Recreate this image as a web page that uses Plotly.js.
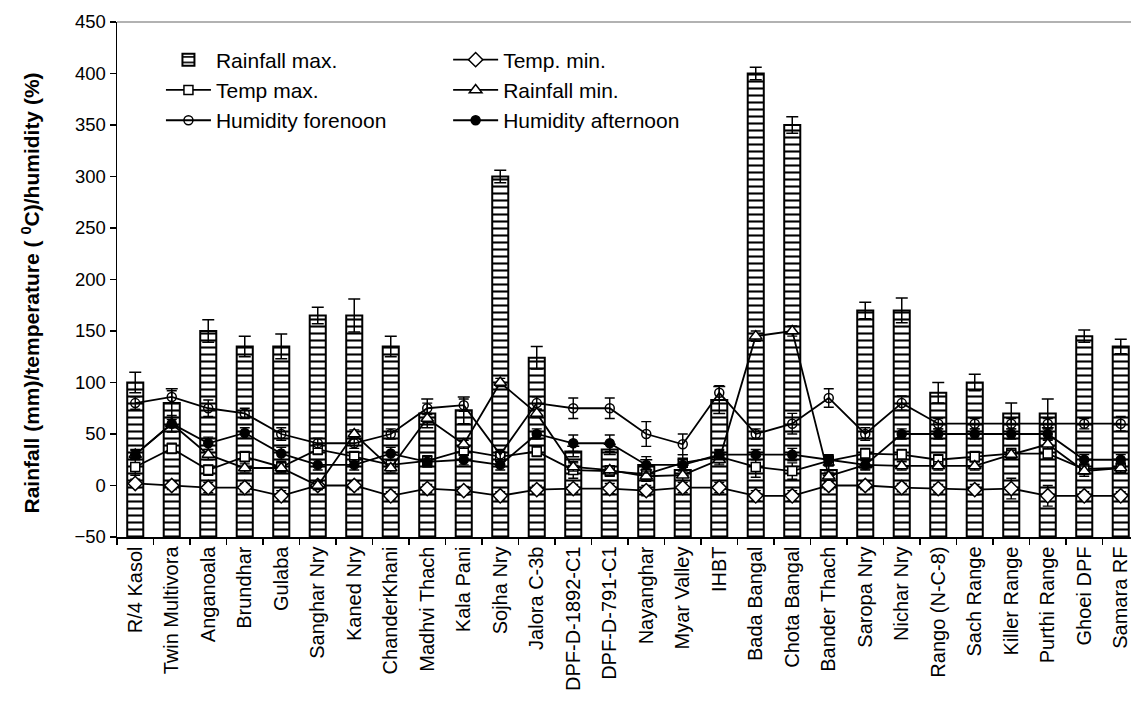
<!DOCTYPE html>
<html>
<head>
<meta charset="utf-8">
<script src="https://cdn.plot.ly/plotly-3.0.1.min.js"></script>
<style>
  html, body { margin: 0; padding: 0; overflow: hidden; background: #fff; }
  #chart { width: 1140px; height: 702px; }
</style>
</head>
<body>
<div id="chart"></div>
<script>
const categories = ["R/4 Kasol","Twin Multivora","Anganoala","Brundhar","Gulaba","Sanghar Nry","Kaned Nry","ChanderKhani","Madhvi Thach","Kala Pani","Sojha Nry","Jalora C-3b","DPF-D-1892-C1","DPF-D-791-C1","Nayanghar","Myar Valley","IHBT","Bada Bangal","Chota Bangal","Bander Thach","Saropa Nry","Nichar Nry","Rango (N-C-8)","Sach Range","Killer Range","Purthi Range","Ghoei DPF","Samara RF"];

const rainfallMax    = [100, 80, 150, 135, 135, 165, 165, 135, 70, 73, 300, 124, 33, 35, 20, 15, 83, 400, 350, 15, 170, 170, 90, 100, 70, 70, 145, 135];
const rainfallMaxErr = [10, 14, 11, 10, 12, 8, 16, 10, 14, 13, 6, 11, 5, 5, 5, 5, 13, 6, 8, 5, 8, 12, 10, 8, 10, 14, 6, 7];

const tempMin    = [2, 0, -2, -2, -10, 0, 0, -10, -3, -5, -10, -4, -3, -3, -5, -2, -2, -10, -10, 0, 0, -2, -3, -4, -3, -10, -10, -10];
const tempMinErr = [4, 4, 5, 4, 5, 4, 4, 4, 4, 4, 4, 4, 4, 5, 5, 5, 5, 5, 5, 4, 4, 4, 4, 5, 10, 10, 4, 4];

const tempMax    = [18, 36, 15, 28, 18, 35, 28, 20, 24, 34, 28, 33, 15, 14, 11, 22, 28, 18, 14, 24, 31, 30, 25, 28, 31, 31, 16, 17];
const tempMaxErr = [8, 5, 5, 5, 5, 5, 5, 5, 5, 5, 5, 5, 8, 5, 5, 8, 6, 10, 8, 5, 5, 5, 5, 5, 5, 5, 5, 5];

const rainfallMin    = [30, 60, 30, 17, 17, 0, 50, 17, 65, 40, 100, 70, 18, 15, 9, 10, 25, 145, 150, 9, 20, 19, 19, 19, 30, 40, 14, 17];
const rainfallMinErr = [4, 4, 5, 4, 5, 4, 4, 4, 4, 4, 4, 4, 4, 4, 5, 5, 5, 5, 5, 4, 4, 4, 4, 4, 4, 4, 5, 4];

const humidityForenoon    = [80, 86, 75, 70, 50, 41, 41, 50, 75, 78, 30, 80, 75, 75, 50, 40, 90, 50, 60, 85, 50, 80, 60, 60, 60, 60, 60, 60];
const humidityForenoonErr = [6, 6, 8, 5, 6, 5, 5, 5, 5, 6, 5, 6, 10, 10, 12, 10, 7, 5, 10, 9, 6, 7, 5, 5, 5, 5, 5, 7];

const humidityAfternoon    = [30, 60, 41, 51, 31, 20, 20, 31, 23, 25, 20, 50, 41, 41, 20, 20, 30, 30, 30, 25, 20, 50, 50, 50, 50, 50, 25, 25];
const humidityAfternoonErr = [5, 8, 6, 5, 6, 5, 5, 6, 5, 5, 5, 5, 8, 8, 8, 5, 5, 5, 6, 5, 5, 5, 5, 5, 5, 5, 5, 5];

const yTickVals = [-50, 0, 50, 100, 150, 200, 250, 300, 350, 400, 450];
const yTitle = '<b>Rainfall (mm)/temperature ( <sup>0</sup>C)/humidity (%)</b>';

const AXIS_MIN = -50;
const FONT = 'Liberation Sans, Arial, sans-serif';

function lineTrace(name, y, err, symbol, fill, legend) {
  return {
    type: 'scatter', mode: 'lines+markers', name: name, x: categories, y: y,
    legend: legend,
    line: { color: '#000', width: 1.8 },
    marker: { symbol: symbol, size: symbol.indexOf('triangle') === 0 ? 11 : (symbol.indexOf('diamond') === 0 ? 11 : 9),
              color: fill, line: { color: '#000', width: 1.5 } },
    error_y: { type: 'data', array: err, visible: true, color: '#000', thickness: 1.4, width: 5 }
  };
}

const traces = [
  {
    type: 'bar', name: 'Rainfall max.', x: categories,
    y: rainfallMax.map(v => v - AXIS_MIN), base: AXIS_MIN,
    legend: 'legend',
    marker: { color: '#fff', line: { color: '#000', width: 2 },
              pattern: { shape: '-', fgcolor: '#000', bgcolor: '#fff', size: 7, solidity: 0.3 } },
    error_y: { type: 'data', array: rainfallMaxErr, visible: true, color: '#000', thickness: 1.5, width: 6 }
  },
  lineTrace('Temp max.', tempMax, tempMaxErr, 'square', '#fff', 'legend'),
  lineTrace('Humidity forenoon', humidityForenoon, humidityForenoonErr, 'circle-open', '#000', 'legend'),
  lineTrace('Temp. min.', tempMin, tempMinErr, 'diamond', '#fff', 'legend2'),
  lineTrace('Rainfall min.', rainfallMin, rainfallMinErr, 'triangle-up', '#fff', 'legend2'),
  lineTrace('Humidity afternoon', humidityAfternoon, humidityAfternoonErr, 'circle', '#000', 'legend2')
];

const legendCommon = {
  bgcolor: 'rgba(0,0,0,0)', borderwidth: 0,
  font: { family: FONT, size: 21, color: '#000' },
  itemwidth: 45, traceorder: 'normal', yanchor: 'top', xanchor: 'left', tracegroupgap: 0
};

const layout = {
  width: 1140, height: 702,
  margin: { l: 117, r: 1, t: 22, b: 165 },
  paper_bgcolor: '#fff', plot_bgcolor: '#fff',
  font: { family: FONT, color: '#000' },
  bargap: 0.56,
  showlegend: true,
  legend: Object.assign({}, legendCommon, { x: 0.043, y: 0.966 }),
  legend2: Object.assign({}, legendCommon, { x: 0.324, y: 0.966 }),
  xaxis: {
    type: 'category', range: [-0.5, 27.5],
    showline: true, linecolor: '#000', linewidth: 1.5,
    ticks: 'outside', ticklen: 6, tickwidth: 1.2, tickcolor: '#000',
    tickson: 'boundaries', tickangle: -90,
    tickfont: { family: FONT, size: 20, color: '#000' },
    showgrid: false, zeroline: false
  },
  yaxis: {
    range: [-50, 450], tickvals: yTickVals,
    showline: true, linecolor: '#000', linewidth: 1.5,
    ticks: 'outside', ticklen: 6, tickwidth: 1.2, tickcolor: '#000',
    tickfont: { family: FONT, size: 18.5, color: '#000' },
    showgrid: false, zeroline: false
  },
  annotations: [
    { text: yTitle, xref: 'paper', yref: 'paper', x: 0, y: 0.5, xanchor: 'center', yanchor: 'middle',
      xshift: -87, yshift: -14, textangle: -90, showarrow: false,
      font: { family: FONT, size: 21, color: '#000' } }
  ],
  shapes: [
    { type: 'line', xref: 'paper', yref: 'paper', x0: 0, x1: 1, y0: 1, y1: 1,
      line: { color: '#999', width: 1.5 } }
  ]
};

Plotly.newPlot('chart', traces, layout, { displayModeBar: false, staticPlot: true });
</script>
</body>
</html>
